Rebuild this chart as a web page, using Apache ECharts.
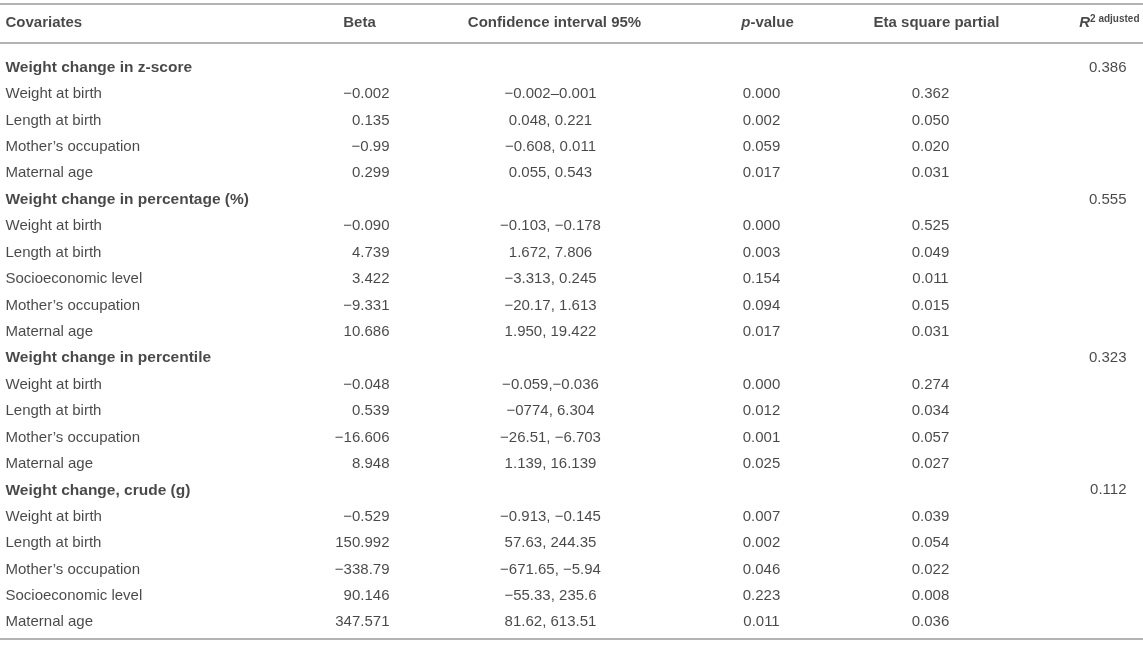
<!DOCTYPE html>
<html>
<head>
<meta charset="utf-8">
<script src="https://cdn.jsdelivr.net/npm/echarts@6/dist/echarts.min.js"></script>
<style>
  html, body { margin: 0; padding: 0; background: #fff; }
  #main { width: 1143px; height: 645px; }
</style>
</head>
<body>
<div id="main"></div>
<script>
// table rows, top to bottom (group titles have empty values)
var rowLabels = [
    'Weight change in z-score',
    'Weight at birth', 'Length at birth', 'Mother\u2019s occupation', 'Maternal age',
    'Weight change in percentage (%)',
    'Weight at birth', 'Length at birth', 'Socioeconomic level', 'Mother\u2019s occupation', 'Maternal age',
    'Weight change in percentile',
    'Weight at birth', 'Length at birth', 'Mother\u2019s occupation', 'Maternal age',
    'Weight change, crude (g)',
    'Weight at birth', 'Length at birth', 'Mother\u2019s occupation', 'Socioeconomic level', 'Maternal age'
];
var betaValues = [
    '',
    '\u22120.002', '0.135', '\u22120.99', '0.299',
    '',
    '\u22120.090', '4.739', '3.422', '\u22129.331', '10.686',
    '',
    '\u22120.048', '0.539', '\u221216.606', '8.948',
    '',
    '\u22120.529', '150.992', '\u2212338.79', '90.146', '347.571'
];
var ciValues = [
    '',
    '\u22120.002\u20130.001', '0.048, 0.221', '\u22120.608, 0.011', '0.055, 0.543',
    '',
    '\u22120.103, \u22120.178', '1.672, 7.806', '\u22123.313, 0.245', '\u221220.17, 1.613', '1.950, 19.422',
    '',
    '\u22120.059,\u22120.036', '\u22120774, 6.304', '\u221226.51, \u22126.703', '1.139, 16.139',
    '',
    '\u22120.913, \u22120.145', '57.63, 244.35', '\u2212671.65, \u22125.94', '\u221255.33, 235.6', '81.62, 613.51'
];
var pValues = [
    '',
    '0.000', '0.002', '0.059', '0.017',
    '',
    '0.000', '0.003', '0.154', '0.094', '0.017',
    '',
    '0.000', '0.012', '0.001', '0.025',
    '',
    '0.007', '0.002', '0.046', '0.223', '0.011'
];
var etaValues = [
    '',
    '0.362', '0.050', '0.020', '0.031',
    '',
    '0.525', '0.049', '0.011', '0.015', '0.031',
    '',
    '0.274', '0.034', '0.057', '0.027',
    '',
    '0.039', '0.054', '0.022', '0.008', '0.036'
];
var r2Values = [
    '0.386', '', '', '', '',
    '0.555', '', '', '', '', '',
    '0.323', '', '', '', '',
    '0.112', '', '', '', '', ''
];
var headerLabels = [
    'Covariates', 'Beta', 'Confidence interval 95%',
    '{bi|p}{h|-value}', 'Eta square partial', '{bi|R}{sup|2 adjusted}'
];

var myChart = echarts.init(document.getElementById('main'));

var FONT = '"Liberation Sans", Arial, Helvetica, sans-serif';
var TEXT = '#1a1a1a';
var RULE = '#b3b3b3';

// column anchors: header and body use slightly different positions
var columns = [
    { values: rowLabels, bodyX: 6,    bodyAlign: 'left',   headX: 6,    headAlign: 'left' },
    { values: betaValues, bodyX: 390, bodyAlign: 'right',  headX: 360,  headAlign: 'center' },
    { values: ciValues,  bodyX: 551,  bodyAlign: 'center', headX: 555,  headAlign: 'center' },
    { values: pValues,   bodyX: 762,  bodyAlign: 'center', headX: 768,  headAlign: 'center' },
    { values: etaValues, bodyX: 931,  bodyAlign: 'center', headX: 937,  headAlign: 'center' },
    { values: r2Values,  bodyX: 1127, bodyAlign: 'right',  headX: 1140, headAlign: 'right' }
];

var rich = {
    b:   { fontFamily: FONT, fontSize: 15.5, fontWeight: 'bold', color: TEXT },
    n:   { fontFamily: FONT, fontSize: 15, color: TEXT },
    h:   { fontFamily: FONT, fontSize: 15, fontWeight: 'bold', color: TEXT },
    bi:  { fontFamily: FONT, fontSize: 15, fontWeight: 'bold', fontStyle: 'italic', color: TEXT },
    sup: { fontFamily: FONT, fontSize: 10, fontWeight: 'bold', color: TEXT, verticalAlign: 'top', padding: [0, 0, 8, 0] }
};

var rowIdx = rowLabels.map(function (_, i) { return String(i); });
var series = [];

columns.forEach(function (col, c) {
    // header cell
    series.push({
        type: 'scatter',
        xAxisIndex: 0,
        yAxisIndex: 0,
        silent: true,
        symbolSize: 1,
        itemStyle: { color: 'rgba(0,0,0,0)' },
        data: [[col.headX, 'header']],
        label: {
            show: true,
            position: [0, 0],
            align: col.headAlign,
            verticalAlign: 'middle',
            color: TEXT,
            rich: rich,
            formatter: function () {
                var h = headerLabels[c];
                return h.charAt(0) === '{' ? h : '{h|' + h + '}';
            }
        }
    });
    // body cells
    series.push({
        type: 'scatter',
        xAxisIndex: 2,
        yAxisIndex: 1,
        silent: true,
        symbolSize: 1,
        itemStyle: { color: 'rgba(0,0,0,0)' },
        data: col.values.map(function (v, i) { return [col.bodyX, rowIdx[i]]; }),
        label: {
            show: true,
            position: [0, 0],
            align: col.bodyAlign,
            verticalAlign: 'middle',
            color: TEXT,
            rich: rich,
            formatter: function (p) {
                var text = col.values[p.dataIndex];
                if (text === '') return '';
                var isGroup = betaValues[p.dataIndex] === '';
                return (isGroup && c === 0 ? '{b|' : '{n|') + text + '}';
            }
        }
    });
});

var hiddenX = { type: 'value', min: 0, max: 1143, axisLabel: { show: false }, axisTick: { show: false }, splitLine: { show: false } };
var rule = { show: true, lineStyle: { color: RULE, width: 2 } };

option = {
    animation: false,
    grid: [
        { left: 0, right: 0, top: 4, height: 39 },
        { left: 0, right: 0, top: 55, height: 581 }
    ],
    xAxis: [
        Object.assign({}, hiddenX, { gridIndex: 0, position: 'bottom', axisLine: rule }),
        Object.assign({}, hiddenX, { gridIndex: 0, position: 'top', axisLine: rule }),
        Object.assign({}, hiddenX, { gridIndex: 1, position: 'bottom', offset: 3, axisLine: rule })
    ],
    yAxis: [
        { type: 'category', gridIndex: 0, data: ['header'], show: false },
        { type: 'category', gridIndex: 1, data: rowIdx, inverse: true, show: false }
    ],
    series: series
};

myChart.setOption(option);
</script>
</body>
</html>
